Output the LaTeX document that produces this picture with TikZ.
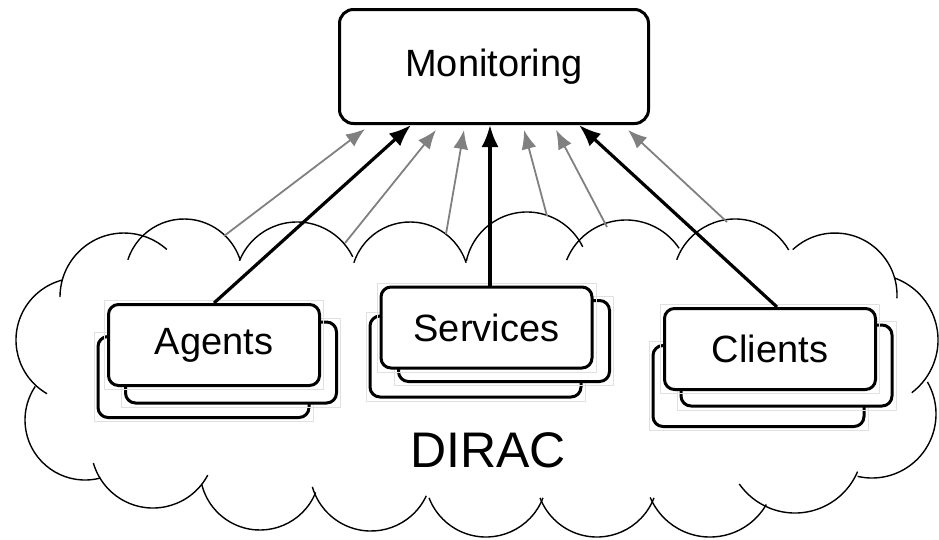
\documentclass[tikz,border=0pt]{standalone}
\usepackage{fontspec}
\setmainfont{Liberation Sans}
\usetikzlibrary{arrows.meta}

\tikzset{
  card/.style={draw, fill=white, line width=3pt, rounded corners=10pt, inner sep=0pt,
    minimum width=211pt, minimum height=81pt, font=\fontsize{38}{40}\selectfont,
    label={[draw=black!12, line width=0.8pt, inner sep=0pt, minimum width=219pt, minimum height=89pt]center:{}}},
  big arrow/.style={line width=3.2pt, -{Latex[length=22pt,width=17pt]}},
  thin arrow/.style={black!50, line width=1.8pt, -{Latex[length=19pt,width=15pt]}},
}

\begin{document}
\begin{tikzpicture}[x=1pt, y=-1pt, line join=round]
\useasboundingbox (0,0) rectangle (939,539);
% cloud
\draw [line width=1.4pt] (124,297) ++(180:64) arc [start angle=180, end angle=312, radius=64];
\draw [line width=1.4pt] (184,278) ++(198:59) arc [start angle=198, end angle=342, radius=59];
\draw [line width=1.4pt] (297,284) ++(202:62) arc [start angle=202, end angle=334, radius=62];
\draw [line width=1.4pt] (410,281) ++(198:59) arc [start angle=198, end angle=342, radius=59];
\draw [line width=1.4pt] (527,274) ++(192:62) arc [start angle=192, end angle=334, radius=62];
\draw [line width=1.4pt] (626,284) ++(202:64) arc [start angle=202, end angle=326, radius=64];
\draw [line width=1.4pt] (735,281) ++(200:62) arc [start angle=200, end angle=330, radius=62];
\draw [line width=1.4pt] (835,295) ++(227:62) arc [start angle=227, end angle=363, radius=62];
\draw [line width=1.4pt] (872,340) ++(290:66) arc [start angle=290, end angle=413, radius=66];
\draw [line width=1.4pt] (872,414) ++(-30:64) arc [start angle=-30, end angle=103, radius=64];
\draw [line width=1.4pt] (795,445) ++(23:68) arc [start angle=23, end angle=145, radius=68];
\draw [line width=1.4pt] (710,472) ++(30:65) arc [start angle=30, end angle=157, radius=65];
\draw [line width=1.4pt] (597,476) ++(21:61) arc [start angle=21, end angle=159, radius=61];
\draw [line width=1.4pt] (486,476) ++(21:61) arc [start angle=21, end angle=159, radius=61];
\draw [line width=1.4pt] (371,470) ++(25:61) arc [start angle=25, end angle=164, radius=61];
\draw [line width=1.4pt] (260,470) ++(22:60) arc [start angle=22, end angle=166, radius=60];
\draw [line width=1.4pt] (153,446) ++(28:62) arc [start angle=28, end angle=164, radius=62];
\draw [line width=1.4pt] (85,420) ++(75:60) arc [start angle=75, end angle=214, radius=60];
\draw [line width=1.4pt] (78,340) ++(120:62) arc [start angle=120, end angle=255, radius=62];
\node [font=\fontsize{50}{52}\selectfont] (dirac) at (488,450) {DIRAC};
% agents
\node [card] (ag3) at (203.5,377) {};
\node [card] (ag2) at (231,362.5) {};
\node [card] (ag) at (214,345) {Agents};
% services
\node [card] (se3) at (475.5,356.5) {};
\node [card] (se2) at (504,341) {};
\node [card] (se) at (486.5,327.5) {Services};
% clients
\node [card] (cl3) at (758.5,386) {};
\node [card] (cl2) at (786.5,365.5) {};
\node [card] (cl) at (770,349) {Clients};
% monitoring
\node [draw, line width=3pt, rounded corners=14pt, minimum width=309pt, minimum height=114pt,
  font=\fontsize{38}{40}\selectfont] (mon) at (494,66.5) {Monitoring};
% grey arrows from the cloud
\coordinate (c1) at (224,236); \coordinate (m1) at (365,129);
\coordinate (c2) at (345,243); \coordinate (m2) at (436,130);
\coordinate (c3) at (446,234); \coordinate (m3) at (464,130);
\coordinate (c4) at (547,216); \coordinate (m4) at (524,130);
\coordinate (c5) at (607,227); \coordinate (m5) at (556,130);
\coordinate (c6) at (727,222); \coordinate (m6) at (628,130);
\draw [thin arrow] (c1) -- (m1);
\draw [thin arrow] (c2) -- (m2);
\draw [thin arrow] (c3) -- (m3);
\draw [thin arrow] (c4) -- (m4);
\draw [thin arrow] (c5) -- (m5);
\draw [thin arrow] (c6) -- (m6);
% black arrows
\draw [big arrow] (ag.north) -- ([xshift=-83pt]mon.south);
\draw [big arrow] ([xshift=3.5pt]se.north) -- ([xshift=-4pt]mon.south);
\draw [big arrow] ([xshift=7pt]cl.north) -- ([xshift=85pt]mon.south);
\end{tikzpicture}
\end{document}
